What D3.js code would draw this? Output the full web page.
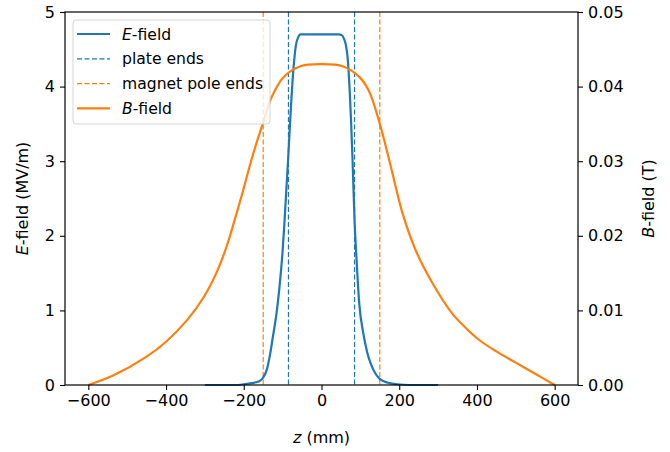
<!DOCTYPE html>
<html>
  <head>
    <script src="https://cdnjs.cloudflare.com/ajax/libs/d3/7.8.5/d3.min.js"></script>
    <style>
      body { margin: 0; background: #fff; }
      text { font-family: "DejaVu Sans", sans-serif; fill: #000; }
    </style>
  </head>
  <body>
    <div id="chart"></div>
    <script>
      // E-field along z (mm -> MV/m)
      const eZ = [-300, -220, -200, -180, -160, -150, -140, -132, -125, -116, -108, -100, -95, -86, -78, -72, -66, -60, -54,
                  45, 52, 58, 63, 67, 72, 76, 80, 85, 90, 97, 108, 118, 128, 138, 148, 160, 175, 195, 225, 300];
      const eVal = [0, 0, 0.01, 0.025, 0.05, 0.1, 0.22, 0.42, 0.65, 0.95, 1.32, 1.8, 2.21, 3.02, 3.78, 4.25, 4.55, 4.66, 4.7,
                    4.7, 4.69, 4.64, 4.55, 4.4, 4.0, 3.55, 3.0, 2.21, 1.7, 1.1, 0.68, 0.43, 0.27, 0.16, 0.09, 0.05, 0.025, 0.01, 0, 0];

      // B-field along z (mm -> T)
      const bZ = [-600, -535, -450, -400, -346, -304, -269, -244, -223, -201, -184, -167, -150, -129, -99, -56, 0,
                  56, 99, 123, 150, 161, 182, 208, 242, 285, 336, 370, 404, 450, 500, 550, 600];
      const bVal = [0, 0.0013, 0.0038, 0.0058, 0.0087, 0.0117, 0.0152, 0.0186, 0.0222, 0.0262, 0.0295, 0.0325, 0.0352, 0.0385, 0.0412, 0.0427, 0.043,
                    0.0427, 0.0412, 0.0393, 0.035, 0.0329, 0.0285, 0.0231, 0.0181, 0.0137, 0.0096, 0.0077, 0.0061, 0.0045, 0.003, 0.0015, 0];

      const plateEnds = [-85, 85];
      const poleEnds = [-150, 150];

      const xTicks = [-600, -400, -200, 0, 200, 400, 600];
      const eTicks = [0, 1, 2, 3, 4, 5];
      const bTicks = [0, 0.01, 0.02, 0.03, 0.04, 0.05];

      const W = 670, H = 452;
      const m = { left: 65, right: 92, top: 12, bottom: 67 };
      const blue = "#1f77b4", orange = "#ff7f0e";
      const fs = "16px";

      const svg = d3.select("#chart").append("svg").attr("width", W).attr("height", H);

      const x = d3.scaleLinear().domain([-660, 660]).range([m.left, W - m.right]);
      const yE = d3.scaleLinear().domain([0, 5]).range([H - m.bottom, m.top]);
      const yB = d3.scaleLinear().domain([0, 0.05]).range([H - m.bottom, m.top]);

      const eData = eZ.map((z, i) => ({ z, v: eVal[i] }));
      const bData = bZ.map((z, i) => ({ z, v: bVal[i] }));

      // vertical markers
      const vl = (vals, col) => svg.append("g").selectAll("line").data(vals).join("line")
        .attr("x1", d => x(d)).attr("x2", d => x(d))
        .attr("y1", m.top).attr("y2", H - m.bottom)
        .attr("stroke", col).attr("stroke-width", 1.2).attr("stroke-dasharray", "5,2.5");
      vl(plateEnds, blue);
      vl(poleEnds, orange);

      svg.append("path").datum(eData)
        .attr("fill", "none").attr("stroke", blue).attr("stroke-width", 2.2)
        .attr("d", d3.line().x(d => x(d.z)).y(d => yE(d.v)).curve(d3.curveMonotoneX));

      svg.append("path").datum(bData)
        .attr("fill", "none").attr("stroke", orange).attr("stroke-width", 2.2)
        .attr("d", d3.line().x(d => x(d.z)).y(d => yB(d.v)).curve(d3.curveCatmullRom.alpha(0.5)));

      // axes
      const fmtAxis = g => {
        g.selectAll(".domain").remove();
        g.selectAll(".tick line").attr("stroke", "#000").attr("stroke-width", 1.1);
        g.selectAll(".tick text").style("font-family", "DejaVu Sans").style("font-size", fs).attr("fill", "#000");
      };
      svg.append("g").attr("transform", `translate(0,${H - m.bottom})`)
        .call(d3.axisBottom(x).tickValues(xTicks).tickSize(5).tickPadding(5)
          .tickFormat(d => d < 0 ? "\u2212" + Math.abs(d) : d))
        .call(fmtAxis);
      svg.append("g").attr("transform", `translate(${m.left},0)`)
        .call(d3.axisLeft(yE).tickValues(eTicks).tickSize(5).tickPadding(5).tickFormat(d3.format("d")))
        .call(fmtAxis);
      svg.append("g").attr("transform", `translate(${W - m.right},0)`)
        .call(d3.axisRight(yB).tickValues(bTicks).tickSize(5).tickPadding(5).tickFormat(d3.format(".2f")))
        .call(fmtAxis);

      // frame
      svg.append("rect").attr("x", m.left).attr("y", m.top)
        .attr("width", W - m.left - m.right).attr("height", H - m.top - m.bottom)
        .attr("fill", "none").attr("stroke", "#000").attr("stroke-width", 1.2);

      // axis labels
      const xl = svg.append("text").attr("x", x(0)).attr("y", 443)
        .attr("text-anchor", "middle").style("font-size", fs);
      xl.append("tspan").style("font-style", "italic").text("z");
      xl.append("tspan").text(" (mm)");

      const yl = svg.append("text").attr("transform", `translate(28,${(m.top + H - m.bottom) / 2}) rotate(-90)`)
        .attr("text-anchor", "middle").style("font-size", fs);
      yl.append("tspan").style("font-style", "italic").text("E");
      yl.append("tspan").text("-field (MV/m)");

      const yr = svg.append("text").attr("transform", `translate(654,${(m.top + H - m.bottom) / 2}) rotate(-90)`)
        .attr("text-anchor", "middle").style("font-size", fs);
      yr.append("tspan").style("font-style", "italic").text("B");
      yr.append("tspan").text("-field (T)");

      // legend
      const leg = svg.append("g").attr("transform", "translate(73,20)");
      leg.append("rect").attr("width", 197).attr("height", 104).attr("rx", 3)
        .attr("fill", "rgba(255,255,255,0.8)").attr("stroke", "#d5d5d5");
      const items = [
        { it: "E", rest: "-field", col: blue, dash: null },
        { it: "", rest: "plate ends", col: blue, dash: "5,2.5" },
        { it: "", rest: "magnet pole ends", col: orange, dash: "5,2.5" },
        { it: "B", rest: "-field", col: orange, dash: null }
      ];
      items.forEach((d, i) => {
        const yy = 14 + i * 24.8;
        leg.append("line").attr("x1", 4).attr("x2", 37).attr("y1", yy).attr("y2", yy)
          .attr("stroke", d.col).attr("stroke-width", d.dash ? 1.2 : 2.2)
          .attr("stroke-dasharray", d.dash);
        const t = leg.append("text").attr("x", 49).attr("y", yy + 5.5).style("font-size", "15.6px");
        if (d.it) t.append("tspan").style("font-style", "italic").text(d.it);
        t.append("tspan").text(d.rest);
      });
    </script>
  </body>
</html>
